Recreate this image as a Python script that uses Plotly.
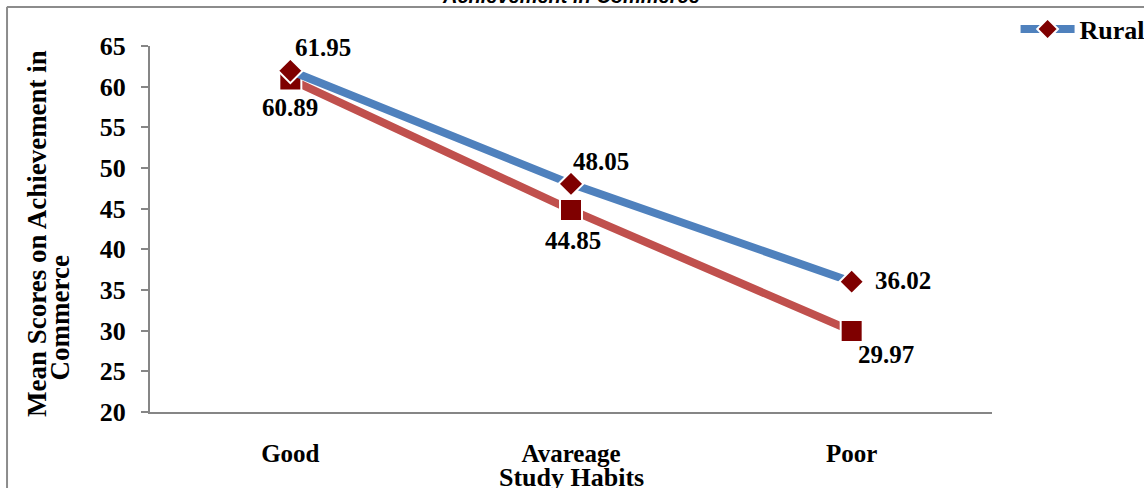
import plotly.graph_objects as go

categories = ["Good", "Avareage", "Poor"]
rural = [61.95, 48.05, 36.02]
urban = [60.89, 44.85, 29.97]
y_ticks = [20, 25, 30, 35, 40, 45, 50, 55, 60, 65]

SERIF = "Liberation Serif, Times New Roman, serif"
BLUE = "#4F81BD"
RED = "#C0504D"
DARK = "#7F0000"
AXIS = "#868686"

def bfont(size):
    return dict(family=SERIF, size=size, color="black", weight="bold")

fig = go.Figure()
fig.add_trace(go.Scatter(
    x=categories, y=urban, name="Urban", mode="lines+markers",
    line=dict(color=RED, width=8),
    marker=dict(symbol="square", size=22, color=DARK, line=dict(color="white", width=2)),
    showlegend=False, cliponaxis=False,
))
fig.add_trace(go.Scatter(
    x=categories, y=rural, name="Rural", mode="lines+markers",
    line=dict(color=BLUE, width=8),
    marker=dict(symbol="diamond", size=19, color=DARK, line=dict(color="white", width=2)),
    cliponaxis=False,
))

# data labels (offsets in pixels from each point)
rural_off = [(33, 23), (30, 22), (51, 1)]
urban_off = [(0, -28), (2, -31), (34, -24)]
for cat, v, (dx, dy) in zip(categories, rural, rural_off):
    fig.add_annotation(x=cat, y=v, text=f"{v:.2f}", showarrow=False, xshift=dx, yshift=dy,
                       font=bfont(25))
for cat, v, (dx, dy) in zip(categories, urban, urban_off):
    fig.add_annotation(x=cat, y=v, text=f"{v:.2f}", showarrow=False, xshift=dx, yshift=dy,
                       font=bfont(25))

fig.update_layout(
    width=1144, height=488,
    margin=dict(l=150, r=152, t=46, b=76, autoexpand=False),
    paper_bgcolor="white", plot_bgcolor="white",
    font=dict(family=SERIF, color="black"),
    showlegend=True,
    legend=dict(x=1.028, y=1.046, xanchor="left", yanchor="middle",
                font=bfont(26), bgcolor="rgba(0,0,0,0)", itemwidth=54),
    xaxis=dict(type="category", range=[-0.5, 2.5], showline=True, linecolor=AXIS, linewidth=2,
               ticks="", showgrid=False, zeroline=False,
               tickfont=bfont(25), ticklabelstandoff=18),
    yaxis=dict(range=[20, 65], tickvals=y_ticks, showline=True, linecolor=AXIS, linewidth=2,
               ticks="outside", ticklen=7, tickcolor=AXIS, tickwidth=2, showgrid=False, zeroline=False,
               tickfont=bfont(26), ticklabelstandoff=10),
)

# axis titles
fig.add_annotation(text="Study Habits", xref="paper", yref="paper", x=0.5, y=-0.18,
                   yanchor="middle", showarrow=False, font=bfont(26))
fig.add_annotation(text="Mean Scores on Achievement in", xref="paper", yref="paper",
                   x=-0.135, y=0.487, textangle=-90, xanchor="center", yanchor="middle", showarrow=False,
                   font=bfont(27))
fig.add_annotation(text="Commerce", xref="paper", yref="paper",
                   x=-0.107, y=0.258, textangle=-90, xanchor="center", yanchor="middle", showarrow=False,
                   font=bfont(27))
# cut-off chart title
fig.add_annotation(text="<i>Achievement in Commerce</i>", xref="paper", yref="paper",
                   x=0.5, y=1.10, xanchor="center", yanchor="bottom", showarrow=False,
                   font=dict(family="Liberation Sans, Arial, sans-serif", size=20, color="black", weight="bold"))

# chart border (top and left edges visible)
fig.add_shape(type="line", xref="paper", yref="paper", x0=-0.17, x1=1.3, y0=1.1066, y1=1.1066,
              line=dict(color="#8C8C8C", width=2))
fig.add_shape(type="line", xref="paper", yref="paper", x0=-0.1698, x1=-0.1698, y0=1.1066, y1=-0.3,
              line=dict(color="#8C8C8C", width=2))

fig.write_html("out.html")
